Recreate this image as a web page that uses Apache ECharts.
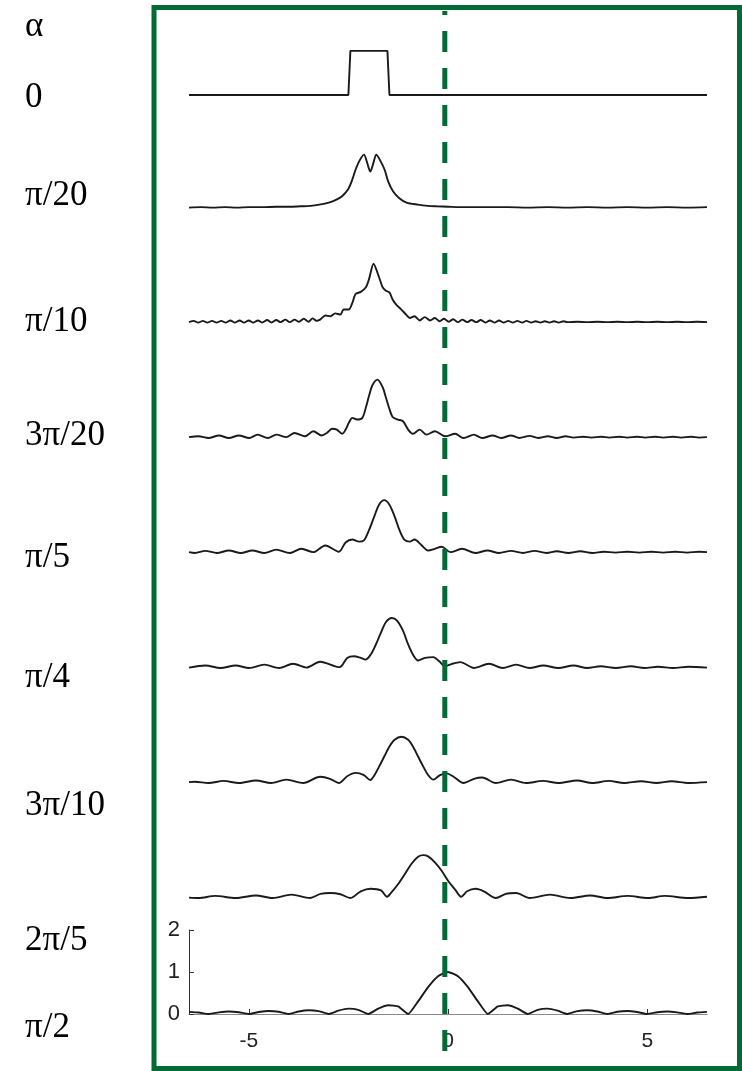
<!DOCTYPE html>
<html>
<head>
<meta charset="utf-8">
<script src="https://cdn.jsdelivr.net/npm/echarts@6/dist/echarts.min.js"></script>
<style>
html, body { margin: 0; padding: 0; background: #fff; }
#chart { width: 742px; height: 1071px; }
</style>
</head>
<body>
<div id="chart"></div>
<script>
// row labels (fractional order alpha) and axis ticks
var alphaLabels = ['α', '0', 'π/20', 'π/10', '3π/20', 'π/5', 'π/4', '3π/10', '2π/5', 'π/2'];
var xTicks = [-5, 0, 5];
var yTicks = [0, 1, 2];
var xRange = [-6.5, 6.5];
var dashX = -0.08;

// |FrFT| of the shifted rect, one curve per alpha, [x, magnitude]
var rect0 = [[-6.5,0],[-2.5,0],[-2.45,1.05],[-1.52,1.05],[-1.47,0],[6.5,0]];

var aPi20 = [[-6.5,0.01],[-6.2,0.02],[-5.9,0.01],[-5.6,0.02],[-5.3,0.01],[-5.0,0.02],[-4.65,0.02],[-4.3,0.03],
  [-4.0,0.03],[-3.7,0.04],[-3.45,0.05],[-3.23,0.08],[-2.99,0.13],[-2.80,0.2],[-2.66,0.28],[-2.51,0.44],
  [-2.42,0.63],[-2.32,0.91],[-2.23,1.11],[-2.11,1.27],[-2.03,1.08],[-1.95,0.87],[-1.87,1.08],[-1.80,1.27],
  [-1.69,1.11],[-1.59,0.91],[-1.50,0.63],[-1.38,0.4],[-1.23,0.24],[-1.04,0.13],[-0.76,0.08],[-0.5,0.05],
  [-0.28,0.04],[0,0.03],[0.3,0.02],[0.6,0.02],[1,0.02],[1.5,0.02],[2,0.01],[2.5,0.02],[3,0.01],[3.5,0.02],
  [4,0.01],[4.5,0.02],[5,0.01],[5.5,0.02],[6,0.01],[6.5,0.02]];

var aPi10 = [[-6.5,0.02],[-6.38,0.05],[-6.27,0.01],[-6.15,0.05],[-6.04,0.01],[-5.92,0.05],[-5.81,0.01],
  [-5.69,0.05],[-5.58,0.01],[-5.46,0.06],[-5.35,0.01],[-5.23,0.06],[-5.12,0.01],[-5.0,0.06],[-4.89,0.01],
  [-4.77,0.06],[-4.66,0.01],[-4.54,0.07],[-4.43,0.01],[-4.31,0.07],[-4.2,0.02],[-4.08,0.08],[-3.97,0.02],
  [-3.85,0.08],[-3.74,0.03],[-3.62,0.1],[-3.5,0.03],[-3.4,0.11],[-3.3,0.05],[-3.21,0.08],[-3.08,0.18],
  [-2.95,0.16],[-2.83,0.23],[-2.7,0.2],[-2.62,0.32],[-2.49,0.32],[-2.4,0.48],[-2.32,0.69],[-2.19,0.74],
  [-2.06,0.85],[-1.98,1.05],[-1.87,1.41],[-1.73,1.09],[-1.64,0.85],[-1.56,0.77],[-1.47,0.73],[-1.39,0.56],
  [-1.3,0.44],[-1.17,0.32],[-1.05,0.2],[-0.96,0.12],[-0.84,0.16],[-0.71,0.06],[-0.58,0.14],[-0.45,0.06],
  [-0.33,0.12],[-0.21,0.04],[-0.1,0.1],[0.02,0.03],[0.13,0.09],[0.25,0.02],[0.36,0.08],[0.48,0.02],
  [0.59,0.07],[0.71,0.02],[0.82,0.07],[0.94,0.01],[1.05,0.06],[1.17,0.01],[1.28,0.06],[1.4,0.01],
  [1.51,0.05],[1.63,0.01],[1.74,0.05],[1.86,0.01],[1.97,0.05],[2.09,0.01],[2.2,0.04],[2.32,0.01],
  [2.43,0.04],[2.55,0.01],[2.66,0.04],[2.78,0.01],[2.9,0.04],[3.0,0.02],[3.25,0.03],[3.5,0.02],[3.75,0.03],
  [4.0,0.02],[4.25,0.03],[4.5,0.02],[4.75,0.03],[5.0,0.02],[5.25,0.03],[5.5,0.02],[5.75,0.03],[6.0,0.02],
  [6.25,0.03],[6.5,0.02]];

var a3Pi20 = [[-6.5,0.02],[-6.26,0.04],[-6.01,0],[-5.75,0.06],[-5.5,0],[-5.25,0.06],[-4.99,0],[-4.78,0.08],
  [-4.52,0],[-4.31,0.08],[-4.06,0.02],[-3.85,0.12],[-3.59,0.04],[-3.38,0.16],[-3.17,0.06],[-3.04,0.12],
  [-2.91,0.22],[-2.79,0.2],[-2.66,0.1],[-2.57,0.2],[-2.49,0.36],[-2.4,0.48],[-2.28,0.44],[-2.15,0.48],
  [-2.06,0.73],[-1.98,1.01],[-1.9,1.25],[-1.77,1.39],[-1.64,1.21],[-1.56,0.97],[-1.47,0.69],[-1.39,0.5],
  [-1.26,0.44],[-1.13,0.4],[-1.0,0.2],[-0.88,0.1],[-0.71,0.2],[-0.54,0.08],[-0.33,0.16],[-0.07,0.04],
  [0.18,0.1],[0.39,0],[0.65,0.08],[0.86,0],[1.12,0.06],[1.33,0],[1.58,0.06],[1.79,0],[2.05,0.05],[2.26,0],
  [2.51,0.04],[2.73,0],[2.95,0.04],[3.15,0.01],[3.4,0.03],[3.6,0.01],[3.85,0.03],[4.05,0.01],[4.3,0.03],
  [4.5,0.01],[4.75,0.03],[4.95,0.01],[5.2,0.03],[5.4,0.01],[5.65,0.03],[5.85,0.01],[6.1,0.03],[6.3,0.01],
  [6.5,0.02]];

var aPi5 = [[-6.5,0.02],[-6.35,0],[-6.09,0.05],[-5.8,0],[-5.5,0.06],[-5.2,0],[-4.91,0.06],[-4.61,0],
  [-4.31,0.08],[-3.97,0],[-3.68,0.1],[-3.38,0.02],[-3.08,0.18],[-2.74,0.03],[-2.57,0.25],[-2.4,0.32],
  [-2.23,0.27],[-2.11,0.3],[-1.98,0.55],[-1.85,0.87],[-1.73,1.15],[-1.6,1.26],[-1.47,1.15],[-1.34,0.87],
  [-1.22,0.55],[-1.09,0.31],[-0.96,0.27],[-0.84,0.32],[-0.67,0.19],[-0.5,0.06],[-0.33,0.1],[-0.16,0.15],
  [0.06,0.02],[0.35,0.1],[0.69,0],[0.99,0.06],[1.28,0],[1.58,0.05],[1.88,0],[2.17,0.05],[2.47,0],
  [2.73,0.04],[3.02,0],[3.32,0.04],[3.62,0],[3.91,0.03],[4.2,0.01],[4.5,0.03],[4.8,0.01],[5.1,0.03],
  [5.4,0.01],[5.7,0.03],[6.0,0.01],[6.3,0.03],[6.5,0.02]];

var aPi4 = [[-6.5,0.01],[-6.09,0.06],[-5.71,0],[-5.33,0.06],[-4.99,0],[-4.61,0.08],[-4.24,0],[-3.89,0.1],
  [-3.55,0.01],[-3.21,0.15],[-2.72,0.02],[-2.53,0.24],[-2.36,0.28],[-2.19,0.24],[-2.07,0.2],[-1.94,0.32],
  [-1.81,0.56],[-1.68,0.85],[-1.56,1.09],[-1.41,1.19],[-1.28,1.13],[-1.13,0.89],[-1.0,0.56],[-0.88,0.32],
  [-0.75,0.18],[-0.58,0.24],[-0.37,0.26],[-0.22,0.16],[-0.07,0.04],[0.1,0.1],[0.31,0.14],[0.65,0],
  [1.03,0.1],[1.37,0],[1.71,0.08],[2.05,0],[2.39,0.06],[2.77,0],[3.15,0.06],[3.49,0],[3.83,0.04],[4.21,0],
  [4.59,0.04],[4.93,0],[5.27,0.03],[5.65,0],[6.03,0.03],[6.5,0.01]];

var a3Pi10 = [[-6.5,0.02],[-6.35,0.03],[-6.01,0],[-5.63,0.05],[-5.25,0],[-4.82,0.06],[-4.44,0],[-4.06,0.08],
  [-3.63,0],[-3.21,0.15],[-2.96,0.1],[-2.74,0],[-2.53,0.16],[-2.32,0.24],[-2.11,0.19],[-1.95,0.07],
  [-1.85,0.18],[-1.73,0.39],[-1.6,0.63],[-1.47,0.87],[-1.34,1.03],[-1.17,1.1],[-1.0,1.03],[-0.88,0.87],
  [-0.75,0.63],[-0.62,0.39],[-0.5,0.19],[-0.37,0.08],[-0.2,0.19],[-0.03,0.23],[0.14,0.15],[0.39,0],
  [0.65,0.1],[0.86,0.13],[1.2,0],[1.58,0.08],[1.96,0],[2.39,0.05],[2.77,0],[3.24,0.06],[3.62,0],[4.04,0.05],
  [4.42,0],[4.85,0.04],[5.23,0],[5.61,0.04],[6.03,0],[6.5,0.02]];

var a2Pi5 = [[-6.5,0.01],[-6.26,0],[-5.84,0.05],[-5.33,0],[-4.82,0.06],[-4.4,0],[-3.93,0.08],[-3.46,0],
  [-3.2,0.1],[-2.95,0.12],[-2.7,0.09],[-2.45,0],[-2.19,0.16],[-1.94,0.22],[-1.68,0.18],[-1.53,0.03],
  [-1.43,0.12],[-1.26,0.32],[-1.09,0.56],[-0.92,0.81],[-0.75,0.98],[-0.62,1.02],[-0.5,0.99],[-0.33,0.85],
  [-0.16,0.65],[0.01,0.4],[0.18,0.2],[0.33,0.03],[0.48,0.16],[0.69,0.22],[0.9,0.16],[1.2,0],[1.45,0.1],
  [1.71,0.12],[2.05,0],[2.56,0.08],[3.07,0],[3.57,0.06],[4.0,0],[4.51,0.05],[5.02,0],[5.44,0.05],[6.03,0],
  [6.5,0.03]];

var aPi2 = [[-6.5,0.05],[-6.25,0.035],[-6,0],[-5.75,0.04],[-5.5,0.058],[-5.25,0.043],[-5,0],[-4.75,0.047],
  [-4.5,0.07],[-4.25,0.053],[-4,0],[-3.75,0.06],[-3.5,0.09],[-3.25,0.07],[-3,0],[-2.75,0.08],[-2.5,0.127],
  [-2.25,0.1],[-2,0],[-1.75,0.13],[-1.5,0.21],[-1.25,0.18],[-1,0],[-0.75,0.3],[-0.5,0.64],[-0.25,0.9],
  [0,1.0],[0.25,0.9],[0.5,0.64],[0.75,0.3],[1,0],[1.25,0.18],[1.5,0.21],[1.75,0.13],[2,0],[2.25,0.1],
  [2.5,0.127],[2.75,0.08],[3,0],[3.25,0.07],[3.5,0.09],[3.75,0.06],[4,0],[4.25,0.053],[4.5,0.07],
  [4.75,0.047],[5,0],[5.25,0.043],[5.5,0.058],[5.75,0.04],[6,0],[6.25,0.035],[6.5,0.05]];

var panels = [rect0, aPi20, aPi10, a3Pi20, aPi5, aPi4, a3Pi10, a2Pi5, aPi2];

// layout
var baselines = [95, 208, 323, 438, 553, 668, 783, 898, 1014];
var labelY = [27, 98, 196, 322, 436, 558, 678, 806, 941, 1028];
var smoothing = [false, 0.3, 0.25, 0.3, 0.3, 0.3, 0.3, 0.3, 0.15];
var green = '#006b35';
var ink = '#1a1a1a';
var plotLeft = 189, plotRight = 35, unitH = 84;

var chart = echarts.init(document.getElementById('chart'), null, { renderer: 'canvas' });

var grids = [], xAxes = [], yAxes = [], series = [];
panels.forEach(function (d, i) {
    var last = i === panels.length - 1;
    grids.push({ left: plotLeft, right: plotRight, top: baselines[i] - unitH, height: unitH });
    xAxes.push({
        type: 'value', gridIndex: i, min: xRange[0], max: xRange[1], show: last,
        axisLine: { show: true, onZero: false, lineStyle: { color: '#8a8a8a', width: 1 } },
        axisTick: { show: true, inside: true, length: 5, customValues: xTicks, lineStyle: { color: '#333' } },
        axisLabel: { customValues: xTicks, margin: 17, fontSize: 21, fontFamily: 'Liberation Sans', color: '#222' },
        splitLine: { show: false }
    });
    yAxes.push({
        type: 'value', gridIndex: i, min: yTicks[0], max: yTicks[yTicks.length - 1], interval: 1, show: last,
        axisLine: { show: true, onZero: false, lineStyle: { color: '#333', width: 1 } },
        axisTick: { show: true, inside: true, length: 5, lineStyle: { color: '#333' } },
        axisLabel: { margin: 9, fontSize: 22, fontFamily: 'Liberation Sans', color: '#222' },
        splitLine: { show: false }
    });
    series.push({
        type: 'line', xAxisIndex: i, yAxisIndex: i, data: d,
        symbol: 'none', smooth: smoothing[i], clip: false, silent: true,
        lineStyle: { color: ink, width: 1.9 }, z: 3
    });
});

// full-height grid carrying the dashed reference line
var di = panels.length;
grids.push({ left: plotLeft, right: plotRight, top: 11, bottom: 3 });
xAxes.push({ type: 'value', gridIndex: di, min: xRange[0], max: xRange[1], show: false });
yAxes.push({ type: 'value', gridIndex: di, min: 0, max: 1, show: false });
series.push({
    type: 'line', xAxisIndex: di, yAxisIndex: di, data: [[dashX, 1], [dashX, 0]],
    symbol: 'none', silent: true, z: 10,
    lineStyle: { color: green, width: 5, type: [21, 16], dashOffset: 17, cap: 'butt' }
});

var graphics = [{
    type: 'rect', z: 20, silent: true,
    shape: { x: 154, y: 7.5, width: 585.5, height: 1061 },
    style: { fill: 'none', stroke: green, lineWidth: 5 }
}];
alphaLabels.forEach(function (t, i) {
    graphics.push({
        type: 'text', x: 25, y: labelY[i], silent: true,
        style: { text: t, font: '35px "Liberation Serif"', fill: '#000', verticalAlign: 'middle' }
    });
});

chart.setOption({
    animation: false,
    backgroundColor: '#fff',
    grid: grids,
    xAxis: xAxes,
    yAxis: yAxes,
    series: series,
    graphic: graphics
});
</script>
</body>
</html>
